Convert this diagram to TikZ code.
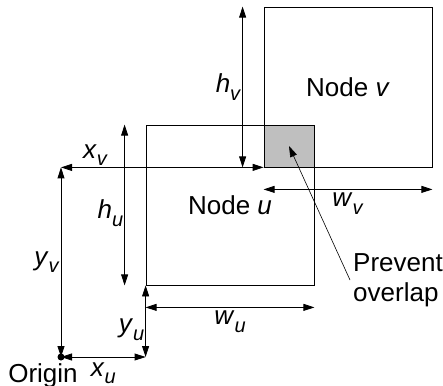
\documentclass[tikz,border=0pt]{standalone}
\usepackage{fontspec}
\setmainfont{Liberation Sans}
\usetikzlibrary{arrows.meta,positioning,calc}
\newcommand{\dimlbl}[2]{\textit{#1}\raisebox{-0.3em}{\fontsize{20}{20}\selectfont\textit{#2}}}

\begin{document}
\begin{tikzpicture}[x=1pt,y=1pt,>={Triangle[length=11pt,width=7pt]},font=\fontsize{26}{30}\selectfont]
  \tikzstyle{box}=[draw,line width=0.8pt,minimum width=168pt,minimum height=160pt,inner sep=0pt]
  \tikzstyle{dim}=[<->,line width=0.8pt]
  \tikzstyle{lbl}=[inner sep=1pt]
  \useasboundingbox (-61,-28) rectangle (382,357);
  % shaded overlap first, boxes on top
  \node[fill=black!25,minimum width=50pt,minimum height=42pt,inner sep=0pt] (overlap) at (228,211) {};
  \node[box] (nodeu) at (169,152) {Node \textit{u}};
  \node[box] (nodev) at (287,270) {Node \textit{v}};
  \node[circle,fill,inner sep=0pt,minimum size=7pt] (origin) at (0,0) {};
  \node[inner sep=0pt,below=6pt of origin.center,xshift=-18pt] (origintxt) {Origin};
  \coordinate (vcorner) at (origin |- nodev.south west);
  \coordinate (ucorner) at (origin -| nodeu.south west);
  % position of v
  \draw[dim] (vcorner) -- node[lbl,above,pos=0.17] {\dimlbl{x}{v}} (nodev.south west);
  \draw[dim] (origin.center) -- node[lbl,left] {\dimlbl{y}{v}} (vcorner);
  % position of u
  \draw[dim] (origin.center) -- node[lbl,below=4pt] {\dimlbl{x}{u}} (ucorner);
  \draw[dim] (ucorner) -- node[lbl,left,pos=0.38] {\dimlbl{y}{u}} (nodeu.south west);
  % sizes
  \draw[dim] ($(nodeu.south west)+(0,-22)$) -- node[lbl,below=2pt] {\dimlbl{w}{u}} ($(nodeu.south east)+(0,-22)$);
  \draw[dim] ($(nodeu.south west)+(-21,0)$) -- node[lbl,left,pos=0.45] {\dimlbl{h}{u}} ($(nodeu.north west)+(-21,0)$);
  \draw[dim] ($(nodev.south west)+(0,-22)$) -- node[lbl,below=2pt] {\dimlbl{w}{v}} ($(nodev.south east)+(0,-22)$);
  \draw[dim] ($(nodev.south west)+(-21,0)$) -- node[lbl,left] {\dimlbl{h}{v}} ($(nodev.north west)+(-21,0)$);
  \node[right,align=left,inner sep=3pt] (prevent) at (289,77) {Prevent\\overlap};
  \draw[->,line width=0.6pt] (prevent.west) -- (overlap.center);
\end{tikzpicture}
\end{document}
